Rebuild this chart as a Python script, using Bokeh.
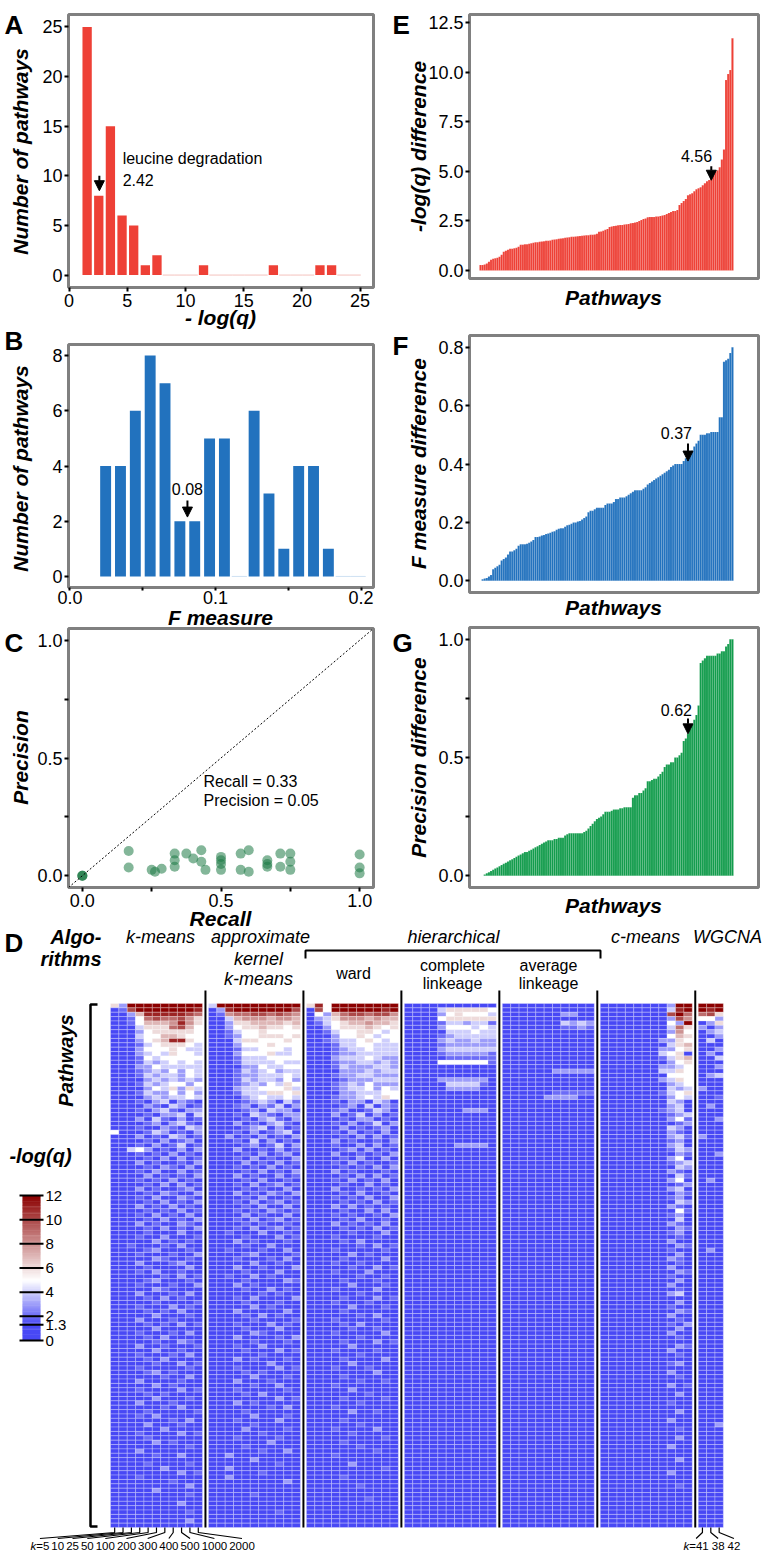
import numpy as np
from bokeh.plotting import figure
from bokeh.layouts import column, row
from bokeh.models import (Range1d, FixedTicker, NumeralTickFormatter, Arrow, NormalHead, Slope,
                          LinearColorMapper, Label, CustomJSTickFormatter, ColumnDataSource, GridBox)
from bokeh.embed import file_html
from bokeh.resources import INLINE

# ---------------- data ----------------
a_bins = [1.55, 2.55, 3.55, 4.55, 5.55, 6.55, 7.55, 8.55, 9.55, 10.55, 11.55, 12.55,
          13.55, 14.55, 15.55, 16.55, 17.55, 18.55, 19.55, 20.55, 21.55, 22.55, 23.55, 24.55]
a_counts = [25, 8, 15, 6, 5, 1, 2, 0, 0, 0, 1, 0, 0, 0, 0, 0, 1, 0, 0, 0, 1, 1, 0, 0]
a_xticks = [0, 5, 10, 15, 20, 25]
a_yticks = [0, 5, 10, 15, 20, 25]

b_bins = [0.0245, 0.0347, 0.0449, 0.0551, 0.0653, 0.0755, 0.0857, 0.0959, 0.1061, 0.1163,
          0.1265, 0.1367, 0.1469, 0.1571, 0.1673, 0.1775, 0.1877, 0.1979]
b_counts = [4, 4, 6, 8, 7, 2, 2, 5, 5, 0, 6, 3, 1, 4, 4, 1, 0, 0]
b_xticks = [0.0, 0.05, 0.1, 0.15, 0.2]
b_yticks = [0, 2, 4, 6, 8]

c_recall = [0, 0, 0, 0.167, 0.167, 0.25, 0.262, 0.286, 0.333, 0.333, 0.333, 0.375, 0.4,
            0.429, 0.429, 0.444, 0.5, 0.5, 0.5, 0.5, 0.571, 0.6, 0.571, 0.6, 0.667, 0.667,
            0.667, 0.714, 0.714, 0.75, 0.75, 0.75, 1.0, 1.0, 1.0]
c_precision = [0, 0, 0, 0.105, 0.035, 0.025, 0.017, 0.03, 0.094, 0.066, 0.038, 0.094, 0.073,
               0.108, 0.059, 0.025, 0.08, 0.066, 0.05, 0.025, 0.094, 0.108, 0.025, 0.017, 0.066,
               0.05, 0.038, 0.094, 0.038, 0.094, 0.059, 0.025, 0.09, 0.035, 0.01]
unit_ticks = [0.0, 0.25, 0.5, 0.75, 1.0]

e_values = [0.28, 0.28, 0.3, 0.35,
            0.45, 0.55, 0.6, 0.62, 0.65, 0.7, 0.8,
            0.95, 1.0, 1.05,
            1.1, 1.1, 1.12, 1.15, 1.2,
            1.3, 1.3, 1.32, 1.33, 1.35, 1.37, 1.4, 1.42, 1.43, 1.45,
            1.47, 1.48, 1.5, 1.5, 1.52, 1.55, 1.57, 1.58, 1.6, 1.62, 1.63, 1.65,
            1.67, 1.68, 1.7, 1.7, 1.72, 1.73, 1.74, 1.75, 1.76, 1.78, 1.78, 1.8, 1.8, 1.82, 1.85,
            1.95, 1.97, 2.0, 2.05, 2.1,
            2.2, 2.22, 2.24, 2.26, 2.28, 2.3, 2.3, 2.32, 2.33, 2.35,
            2.38, 2.4, 2.42, 2.45, 2.5, 2.55, 2.6, 2.62,
            2.68, 2.7, 2.7, 2.7, 2.72, 2.72, 2.75, 2.78, 2.8, 2.85,
            2.9, 2.95, 3.0, 3.0, 3.05, 3.3,
            3.4, 3.5, 3.6, 3.8, 3.85, 3.9,
            4.0, 4.1, 4.15, 4.2, 4.3, 4.4,
            4.5, 4.56, 4.7, 4.9, 5.0,
            5.05, 5.2, 5.6,
            6.1, 9.6, 9.9, 10.1, 11.7]
e_yticks = [0.0, 2.5, 5.0, 7.5, 10.0, 12.5]

f_values = [0.0, 0.005, 0.008, 0.01, 0.015, 0.02,
            0.04, 0.045, 0.05, 0.055,
            0.07, 0.075, 0.08, 0.09, 0.1,
            0.1, 0.105, 0.11, 0.12,
            0.125, 0.125, 0.125, 0.127, 0.13, 0.135, 0.14, 0.15, 0.15,
            0.152, 0.155, 0.157, 0.16, 0.162, 0.165, 0.168, 0.17, 0.175, 0.178, 0.18, 0.18, 0.185,
            0.19, 0.192, 0.195, 0.2, 0.2, 0.203, 0.205, 0.21, 0.215, 0.22,
            0.235, 0.24, 0.24, 0.245, 0.25, 0.25, 0.25, 0.25, 0.26, 0.265,
            0.265, 0.265, 0.27, 0.28, 0.28, 0.285, 0.285, 0.285, 0.29, 0.295, 0.3, 0.305,
            0.31, 0.31, 0.31, 0.31, 0.315, 0.32, 0.33, 0.335, 0.34, 0.345, 0.35,
            0.355, 0.36, 0.365, 0.37, 0.375, 0.38, 0.39, 0.395, 0.4,
            0.4, 0.4, 0.4, 0.41, 0.42, 0.43, 0.44,
            0.445, 0.46, 0.47, 0.48, 0.5, 0.5,
            0.5, 0.505, 0.505, 0.51, 0.51, 0.51,
            0.51, 0.56, 0.56,
            0.75, 0.755, 0.76, 0.78, 0.8]
f_yticks = [0.0, 0.2, 0.4, 0.6, 0.8]

g_values = [0.0, 0.0, 0.005, 0.01, 0.015,
            0.02, 0.025, 0.03, 0.035, 0.04, 0.045, 0.05, 0.055,
            0.06, 0.065, 0.07, 0.075, 0.08, 0.085, 0.09, 0.095,
            0.1, 0.1, 0.105, 0.11, 0.115, 0.12, 0.125, 0.13, 0.135, 0.14,
            0.145, 0.15, 0.15, 0.15, 0.155, 0.155, 0.16, 0.16, 0.16,
            0.17, 0.175, 0.18, 0.18, 0.18, 0.18, 0.18, 0.18, 0.18, 0.185,
            0.19, 0.2, 0.21, 0.22, 0.23, 0.24, 0.245,
            0.25, 0.26, 0.27, 0.27, 0.27, 0.275, 0.28, 0.28,
            0.28, 0.285, 0.285, 0.29, 0.29, 0.29, 0.29,
            0.33, 0.34, 0.34, 0.35, 0.35, 0.36, 0.37,
            0.4, 0.4, 0.405, 0.41, 0.41, 0.42, 0.43, 0.44,
            0.46, 0.47, 0.47, 0.48, 0.48, 0.5,
            0.5, 0.51, 0.52, 0.57,
            0.58, 0.6, 0.62, 0.64, 0.66,
            0.68, 0.72,
            0.9, 0.91, 0.92, 0.93,
            0.93, 0.93, 0.93, 0.93, 0.94,
            0.94, 0.95, 0.95,
            0.97, 0.98, 1.0, 1.0]

# heatmap: one string per pathway row; groups = k-means, approx. kernel k-means,
# ward, complete, average, c-means (11 k values each) and WGCNA (3); hex digit = -log(q)
hm_rows = [
    "63ccccccccc 4cccccccccc 6b5cccccccc 00000000000 00000000000 000000003cc ccc",
    "02acccccccb 03bccccccca 0a5ccccccbc 00004666665 00000000000 000000004bc cbc",
    "0137bbbbba9 02899aa9a98 05379aa9aa8 00003565554 00000003300 00000000ac9 9a6",
    "00259a99a86 01478887887 03468887877 00005666666 00000000000 000000003a8 553",
    "01257778b86 01366777767 02456778776 00002443442 00000004343 0000000053c 036",
    "00146669a75 01356676656 01356667656 00003555454 00000002232 00000000496 303",
    "00135666665 00245565555 01245566545 00000444544 00000000000 00000000385 034",
    "00145577655 00235566656 00135565455 00002344444 00000000000 00000000576 003",
    "0013567bb65 00146655565 00234456545 00003433433 00000000000 00000003365 040",
    "00124566654 00135556555 00124455444 00002333333 00000000000 00000000467 000",
    "00035556544 00124455545 00123445444 00003444444 00000000000 00000003356 003",
    "00134546554 00135556445 00023344444 00002333332 00000000000 00000004560 030",
    "00125455555 00024445555 00134445433 00001222222 00000000000 00000002467 004",
    "00024345454 00124444544 00023344343 00005555552 00000000000 00000000356 000",
    "00133544444 00013354455 00024333443 00000000000 00000000000 00000003345 003",
    "00123435354 00124345344 00013334344 00000000000 00000033333 00000004465 000",
    "00124344354 00023344454 00023344333 00000000000 00000000000 00000000555 034",
    "00013434343 00124344353 00012333444 00003333330 00000000000 00000003465 000",
    "00124345535 00023435465 00023435333 00000444420 00000000000 00000000345 000",
    "00013546364 00134455564 00123445354 00000333300 00000000000 00000000434 300",
    "00024335353 00124446656 00013344455 00000000000 00000022222 00000002456 000",
    "00013434454 00013454454 00023345465 00000000000 00000333300 00000000354 002",
    "00120340320 00102343042 00120330430 00000000000 00000000000 00000000430 000",
    "00013204302 00023032403 00002304032 00000000000 00000000000 00000000340 030",
    "00020342033 00102304330 00023002430 00000003330 00000000000 00000002340 000",
    "00102033404 00020432033 00030240302 00000000000 00000000000 00000000234 000",
    "00030420302 00102034203 00002033020 00000000000 00000000000 00000000352 003",
    "00002303420 00030203420 00020302403 00000000000 00000000000 00000000023 000",
    "00120032043 00002340302 00003020230 00000000000 00000000000 00000000430 000",
    "50002430203 00020302340 00020302030 00000000000 00000000000 00000000320 000",
    "00030204302 00302030203 00002030302 00000000000 00000000000 00000000342 300",
    "00002030230 00020403020 00030200203 00000000000 00000000000 00000000230 000",
    "00020302402 00002302403 00020030302 00000033330 00000000000 00000000340 000",
    "00453020303 00030020302 00002303020 00000000000 00000000000 00000000243 000",
    "00020203020 00002030230 00030020203 00000000000 00000000000 00000000032 003",
    "00002030302 00020302003 00002030030 00000000000 00000000000 00000000350 000",
    "00030200203 00003020302 00020302002 00000000000 00000000000 00000000234 000",
    "00002032030 00020203020 00002020303 00000000000 00000000000 00000000043 000",
    "00020300302 00002030203 00030200020 00000000000 00000000000 00000000320 000",
    "00003020203 00030200302 00002030302 00000000000 00000000000 00000000042 000",
    "00020203020 00002030020 00020302030 00000000000 00000000000 00000000350 030",
    "00002030302 00020302302 00002003020 00000000000 00000000000 00000000023 000",
    "00030200230 00002020030 00030020203 00000000000 00000000000 00000000340 000",
    "00002032003 00030203203 00002030020 00000000000 00000000000 00000000032 000",
    "00020300320 00002030020 00020203003 00000000000 00000000000 00000000230 000",
    "00002030203 00020302302 00002020302 00000000000 00000000000 00000000043 000",
    "00030203020 00002030030 00030302020 00000000000 00000000000 00000000320 000",
    "00002020302 00020203202 00002003030 00000000000 00000000000 00000000052 000",
    "00020302030 00003020030 00020200203 00000000000 00000000000 00000000230 000",
    "00002030203 00020302302 00002030020 00000000000 00000000000 00000000040 000",
    "00030200320 00002020020 00030202030 00000000000 00000000000 00000000320 000",
    "00002030203 00020302302 00002020302 00000000000 00000000000 00000000032 000",
    "00002000300 00200030020 00000200030 00000000000 00000000000 00000000230 000",
    "00020030002 00002000302 00020000200 00000000000 00000000000 00000000020 000",
    "00000302020 00030200020 00002030000 00000000000 00000000000 00000000300 000",
    "00200020300 00002003000 00000020302 00000000000 00000000000 00000000032 000",
    "00002300020 00200020030 00020000020 00000000000 00000000000 00000000200 030",
    "00020002003 00002300002 00000302000 00000000000 00000000000 00000000030 000",
    "00000320020 00020002030 00002000030 00000000000 00000000000 00000000320 000",
    "00030002300 00000300200 00020020000 00000000000 00000000000 00000000020 000",
    "00002000030 00030020003 00000200302 00000000000 00000000000 00000000300 000",
    "00020300200 00002000300 00020003000 00000000000 00000000000 00000000032 000",
    "00000020302 00200302000 00000020020 00000000000 00000000000 00000000200 000",
    "00002300020 00002000032 00002000200 00000000000 00000000000 00000000030 000",
    "00020002003 00030200000 00000300020 00000000000 00000000000 00000000300 000",
    "00000320000 00002003020 00020000300 00000000000 00000000000 00000000020 000",
    "00030002030 00000020200 00000020000 00000000000 00000000000 00000000340 000",
    "00002030200 00020300003 00002000302 00000000000 00000000000 00000000000 000",
    "00000200002 00002000200 00020002000 00000000000 00000000000 00000000030 000",
    "00020003020 00000302000 00000300020 00000000000 00000000000 00000000200 000",
    "00002020300 00030000030 00002000000 00000000000 00000000000 00000000032 000",
    "00000300020 00002030200 00000020300 00000000000 00000000000 00000000300 000",
    "00030002000 00000200002 00020000020 00000000000 00000000000 00000000020 000",
    "00002020302 00020003020 00002030000 00000000000 00000000000 00000000203 000",
    "00000300000 00002000300 00000200200 00000000000 00000000000 00000000030 000",
    "00020002030 00000320000 00020000030 00000000000 00000000000 00000000300 000",
    "00002030000 00030000203 00000020000 00000000000 00000000000 00000000020 000",
    "00000200320 00000200020 00002000302 00000000000 00000000000 00000000000 000",
    "00030020002 00020030000 00000300000 00000000000 00000000000 00000000032 000",
    "00000300200 00002000302 00020000200 00000000000 00000000000 00000000300 000",
    "00020002030 00000020000 00000020000 00000000000 00000000000 00000000020 000",
    "00002030000 00030200020 00002000030 00000000000 00000000000 00000000000 000",
    "00000200302 00000003000 00000300000 00000000000 00000000000 00000000230 000",
    "00020000020 00020000302 00020002000 00000000000 00000000000 00000000000 000",
    "00002302000 00002020000 00000000300 00000000000 00000000000 00000000300 000",
    "00000020030 00000300020 00002000000 00000000000 00000000000 00000000020 000",
    "00030000200 00030002000 00000020020 00000000000 00000000000 00000000000 000",
    "00000302000 00000200300 00020000000 00000000000 00000000000 00000000302 000",
    "00020000302 00020000020 00000300000 00000000000 00000000000 00000000000 000",
    "00002020000 00002030000 00000002000 00000000000 00000000000 00000000030 000",
    "00000300020 00000000302 00002000020 00000000000 00000000000 00000000000 000",
    "00030002000 00030200000 00000020000 00000000000 00000000000 00000000200 000",
    "00000020300 00000002030 00020000000 00000000000 00000000000 00000000000 000",
    "00002000002 00002000000 00000300200 00000000000 00000000000 00000000030 000",
    "00020300000 00000300020 00000000000 00000000000 00000000000 00000000000 000",
    "00000002030 00020000300 00002000000 00000000000 00000000000 00000000300 000",
    "00003000200 00000200000 00000020000 00000000000 00000000000 00000000000 003",
    "00000030000 00003000020 00020000300 00000000000 00000000000 00000000020 000",
    "00020000302 00000020000 00000200000 00000000000 00000000000 00000000000 000",
    "00002000000 00020000200 00000000020 00000000000 00000000000 00000000030 000",
    "00000302000 00000003000 00002000000 00000000000 00000000000 00000000000 000",
    "00000000020 00002000000 00000020000 00000000000 00000000000 00000000300 000",
    "00030000000 00000020030 00000000200 00000000000 00000000000 00000000000 000",
    "00000200300 00300000000 00020000000 00000000000 00000000000 00000000000 000",
    "00000000000 00000300000 00000000000 00000000000 00000000000 00000000030 000",
    "00002000020 00000000200 00000300000 00000000000 00000000000 00000000000 000",
    "00000030000 00300000000 00000000020 00000000000 00000000000 00000000000 000",
    "00000000302 00000020000 00000000000 00000000000 00000000000 00000000300 000",
    "00020000000 00300000000 00002000000 00000000000 00000000000 00000000000 000",
    "00000002000 00000000030 00000000000 00000000000 00000000000 00000000000 000",
    "00000000030 00000000000 00000020000 00000000000 00000000000 00000000020 000",
    "00000300000 00000000000 00000000000 00000000000 00000000000 00000000000 000",
    "00000000020 00000200000 00000000000 00000000000 00000000000 00000000000 000",
    "00000000000 00000000000 00000002000 00000000000 00000000000 00000000000 000",
    "00000000300 00000000000 00000000000 00000000000 00000000000 00000000000 000",
    "00000000000 00000000000 00000000000 00000000000 00000000000 00000000000 000",
    "00000000020 00000000200 00000000000 00000000000 00000000000 00000000000 000",
    "00000000000 00000000000 00000000000 00000000000 00000000000 00000000000 000",
    "00000000030 00000000000 00000000000 00000000000 00000000000 00000000000 000",
    "00000000000 00000000000 00000000000 00000000000 00000000000 00000000000 000",
]
km_k = ["5", "10", "25", "50", "100", "200", "300", "400", "500", "1000", "2000"]
wg_k = ["41", "38", "42"]
cb_ticks = [0, 1.3, 2, 4, 6, 8, 10, 12]
cb_tick_labels = ["0", "1.3", "2", "4", "6", "8", "10", "12"]

# ---------------- style ----------------
FONT = "Liberation Sans"
RED = "#EE4036"
BLUE = "#2272BE"
GREEN = "#129C4C"
DKGREEN = "#1E7A45"
TICK_PX = "18px"
TITLE_PX = "21px"
ANN_PX = "16px"
W, H = 766, 1550


def panel(box, frame, xr, yr):
    bx0, by0, bx1, by1 = box
    fx0, fy0, fx1, fy1 = frame
    p = figure(width=bx1 - bx0, height=by1 - by0, x_range=Range1d(*xr), y_range=Range1d(*yr),
               output_backend="svg", toolbar_location=None,
               min_border_left=fx0 - bx0, min_border_right=bx1 - fx1,
               min_border_top=fy0 - by0, min_border_bottom=by1 - fy1)
    p.grid.visible = False
    p.outline_line_color = "#808080"
    p.outline_line_width = 3
    p.background_fill_color = "white"
    p.border_fill_color = "white"
    for ax in p.axis:
        ax.axis_line_color = None
        ax.major_tick_line_color = "black"
        ax.major_tick_line_width = 2
        ax.major_tick_out = 4
        ax.major_tick_in = 0
        ax.minor_tick_line_color = None
        ax.major_label_text_font = FONT
        ax.major_label_text_font_size = TICK_PX
        ax.major_label_text_color = "black"
        ax.major_label_standoff = 2
    return p


def ann(p, text, x, y, align="center"):
    p.add_layout(Label(x=x, y=y, text=text, text_font=FONT, text_font_size=ANN_PX,
                       text_align=align, text_baseline="middle", text_color="black"))


def arrow(p, x, y_top, y_tip):
    p.add_layout(Arrow(end=NormalHead(size=10, fill_color="black", line_color="black", line_width=1),
                       x_start=x, y_start=y_top, x_end=x, y_end=y_tip,
                       line_color="black", line_width=2))


hide_quarter = CustomJSTickFormatter(code="""
    if (Math.abs(tick - 0.25) < 1e-9 || Math.abs(tick - 0.75) < 1e-9) { return ''; }
    return tick.toFixed(1);""")
hide_half_tenth = CustomJSTickFormatter(code="""
    if (Math.abs(tick - 0.05) < 1e-9 || Math.abs(tick - 0.15) < 1e-9) { return ''; }
    return tick.toFixed(1);""")

# ---------------- A ----------------
pA = panel((0, 0, 383, 318), (68, 14, 373, 287), (-0.05, 26.15), (-1.25, 26.25))
pA.vbar(x=a_bins, top=a_counts, width=0.8, fill_color=RED, line_color=None)
a_zero = [b for b, c in zip(a_bins, a_counts) if c == 0]
pA.vbar(x=a_zero, top=0, bottom=0, width=1.0, fill_color=None, line_color="#F8D6D3", line_width=1)
pA.xaxis.ticker = FixedTicker(ticks=a_xticks)
pA.yaxis.ticker = FixedTicker(ticks=a_yticks)
ann(pA, "leucine degradation", 4.6, 11.7, align="left")
ann(pA, "2.42", 4.6, 9.6, align="left")
arrow(pA, 2.6, 10.0, 8.5)

# ---------------- B ----------------
pB = panel((0, 318, 383, 606), (68, 344, 373, 592), (-0.001, 0.2085), (-0.4, 8.4))
pB.vbar(x=b_bins, top=b_counts, width=0.0075, fill_color=BLUE, line_color=None)
b_zero = [b for b, c in zip(b_bins, b_counts) if c == 0]
pB.vbar(x=b_zero, top=0, bottom=0, width=0.0102, fill_color=None, line_color="#D3E3F3", line_width=1)
pB.xaxis.ticker = FixedTicker(ticks=b_xticks)
pB.xaxis.formatter = hide_half_tenth
pB.xaxis.major_tick_out = 3
pB.xaxis.major_label_standoff = 0
pB.yaxis.ticker = FixedTicker(ticks=b_yticks)
ann(pB, "0.08", 0.0807, 3.15)
arrow(pB, 0.0807, 2.75, 2.15)

# ---------------- C ----------------
pC = panel((0, 606, 383, 912), (68, 628, 373, 887), (-0.05, 1.05), (-0.05, 1.05))
pC.add_layout(Slope(gradient=1, y_intercept=0, line_color="black", line_dash="2 2", line_width=1))
pC.scatter(x=c_recall, y=c_precision, size=10, fill_color=DKGREEN, fill_alpha=0.55, line_color=None)
pC.xaxis.ticker = FixedTicker(ticks=unit_ticks)
pC.yaxis.ticker = FixedTicker(ticks=unit_ticks)
pC.xaxis.formatter = hide_quarter
pC.yaxis.formatter = hide_quarter
ann(pC, "Recall = 0.33", 0.437, 0.40, align="left")
ann(pC, "Precision = 0.05", 0.437, 0.32, align="left")

# ---------------- E / F / G ----------------
XR = (-5.2, 131.3)


def diff_panel(box, frame, yr, vals, color, yticks, fmt):
    p = panel(box, frame, XR, yr)
    p.vbar(x=list(range(len(vals))), top=vals, width=1.0, fill_color=color,
           line_color="white", line_width=0.3, line_alpha=0.35)
    p.xaxis.visible = False
    p.yaxis.ticker = FixedTicker(ticks=yticks)
    p.yaxis.formatter = fmt
    return p


pE = diff_panel((383, 0, 766, 300), (469, 14, 758, 278), (-0.4, 12.9), e_values, RED,
                e_yticks, NumeralTickFormatter(format="0.0"))
ann(pE, "4.56", 102, 5.75)
arrow(pE, 109, 5.25, 4.55)

pF = diff_panel((383, 300, 766, 612), (469, 335, 758, 592), (-0.04, 0.84), f_values, BLUE,
                f_yticks, NumeralTickFormatter(format="0.0"))
ann(pF, "0.37", 92.5, 0.505)
arrow(pF, 98, 0.47, 0.41)

pG = diff_panel((383, 612, 766, 912), (469, 627, 758, 887), (-0.05, 1.05), g_values, GREEN,
                unit_ticks, hide_quarter)
ann(pG, "0.62", 92.5, 0.70)
arrow(pG, 98, 0.665, 0.60)

# ---------------- D : heatmap ----------------
HX0, HY0 = 110, 1003      # page px of heatmap top-left corner
CW = 8.36                 # px per column
RH = 524 / len(hm_rows)   # px per row
GAPU = 6 / CW             # gap between algorithm groups (column units)
BOX = (0, 912, 766, 1550)


def px(x):
    return (x - HX0) / CW


def py(y):
    return (y - HY0) / RH


hm = figure(width=BOX[2] - BOX[0], height=BOX[3] - BOX[1],
            x_range=Range1d(px(BOX[0]), px(BOX[2])), y_range=Range1d(py(BOX[3]), py(BOX[1])),
            output_backend="svg", toolbar_location=None, min_border=0,
            x_axis_location=None, y_axis_location=None)
hm.grid.visible = False
hm.outline_line_color = None
hm.background_fill_color = "white"
hm.border_fill_color = "white"

c_blue = np.array([72, 72, 245])
c_white = np.array([255, 255, 255])
c_red = np.array([139, 0, 0])
pal = []
for v in np.linspace(0, 12, 241):
    if v <= 1.3:
        c = c_blue
    elif v <= 5:
        c = c_blue + (c_white - c_blue) * (v - 1.3) / 3.7
    else:
        c = c_white + (c_red - c_white) * (v - 5) / 7
    pal.append("#%02x%02x%02x" % tuple(int(round(k)) for k in c))
mapper = LinearColorMapper(palette=pal, low=0, high=12)

xs, ys, vs = [], [], []
for r, line in enumerate(hm_rows):
    col = 0
    for g, grp in enumerate(line.split()):
        for j, ch in enumerate(grp):
            xs.append(col + j + g * GAPU + 0.5)
            ys.append(r + 0.5)
            vs.append(int(ch, 16))
        col += len(grp)
src = ColumnDataSource(dict(x=xs, y=ys, v=vs))
hm.rect(x="x", y="y", width=1, height=1, source=src,
        fill_color={"field": "v", "transform": mapper},
        line_color="white", line_width=0.6, line_alpha=0.45)

n_rows = len(hm_rows)
sizes = [len(gp) for gp in hm_rows[0].split()]
sep_x = []
acc = 0
for g, s in enumerate(sizes[:-1]):
    acc += s
    sep_x.append(acc + g * GAPU + GAPU / 2)
hm.segment(x0=sep_x, y0=[py(990)] * len(sep_x), x1=sep_x, y1=[n_rows] * len(sep_x),
           line_color="black", line_width=2)

# left bracket
hm.line(x=[px(97), px(90), px(90), px(97)], y=[py(1004), py(1004), py(1526), py(1526)],
        line_color="black", line_width=2.5)
# hierarchical bracket
hm.line(x=[px(305), px(305), px(600), px(600)], y=[py(958), py(950), py(950), py(958)],
        line_color="black", line_width=2)


def hlabel(text, x, y, style="italic", size="18px", align="center", angle=0.0):
    hm.add_layout(Label(x=px(x), y=py(y), text=text, text_font=FONT, text_font_size=size,
                        text_font_style=style, text_align=align, text_baseline="middle",
                        text_color="black", angle=angle))


hlabel("Algo-", 101, 936, style="bold italic", size="20px", align="right")
hlabel("rithms", 101, 958, style="bold italic", size="20px", align="right")
hlabel("k-means", 160, 936)
hlabel("approximate", 260, 936)
hlabel("kernel", 258, 958)
hlabel("k-means", 258, 978)
hlabel("hierarchical", 453, 936)
hlabel("c-means", 645, 936)
hlabel("WGCNA", 727, 936)
hlabel("ward", 353, 973, style="normal", size="16px")
hlabel("complete", 452, 965, style="normal", size="16px")
hlabel("linkeage", 452, 983, style="normal", size="16px")
hlabel("average", 548, 965, style="normal", size="16px")
hlabel("linkeage", 548, 983, style="normal", size="16px")
hlabel("Pathways", 65, 1060, style="bold italic", size="20px", angle=np.pi / 2)
hlabel("-log(q)", 40, 1155, style="bold italic", size="20px")

# colour bar
CB_Y0, CB_PPU = 1340, 145 / 12
cb_v = np.linspace(0.05, 11.95, 120)
hm.rect(x=[px(31)] * len(cb_v), y=[py(CB_Y0 - v * CB_PPU) for v in cb_v],
        width=18 / CW, height=CB_PPU * 0.1 / RH + 0.1,
        fill_color=[pal[int(round(v / 12 * 240))] for v in cb_v], line_color=None)
hm.segment(x0=[px(19)] * len(cb_ticks), y0=[py(CB_Y0 - t * CB_PPU) for t in cb_ticks],
           x1=[px(43)] * len(cb_ticks), y1=[py(CB_Y0 - t * CB_PPU) for t in cb_ticks],
           line_color="black", line_width=2)
for t, lab in zip(cb_ticks, cb_tick_labels):
    hlabel(lab, 45, CB_Y0 - t * CB_PPU, style="normal", size="15px", align="left")

# k labels below heatmap
LSIZE = 11.5
CHW = {"k": 0.5, "=": 0.584, " ": 0.278}


def tw(s):
    return sum(CHW.get(ch, 0.556) for ch in s) * LSIZE


def label_row(labels, x_start, gap):
    centers, lefts = [], []
    x = x_start
    for i, k in enumerate(labels):
        s = ("k=" + k) if i == 0 else k
        w = tw(s)
        lefts.append(x)
        centers.append(x + w / 2)
        x += w + gap
    return centers, lefts


km_c, km_l = label_row(km_k, 30, 2.0)
wg_c, wg_l = label_row(wg_k, 683, 3.0)
wg_x0 = sum(sizes[:-1]) + (len(sizes) - 1) * GAPU
cols_x = [j + 0.5 for j in range(len(km_k))] + [wg_x0 + j + 0.5 for j in range(len(wg_k))]
labs_x = km_c + wg_c
hm.multi_line(xs=[[cx, cx, px(lx)] for cx, lx in zip(cols_x, labs_x)],
              ys=[[n_rows, py(1532), py(1538)] for _ in cols_x],
              line_color="black", line_width=1.2)
LAB_Y = 1545
for labels, lefts in ((km_k, km_l), (wg_k, wg_l)):
    for i, (k, lx) in enumerate(zip(labels, lefts)):
        if i == 0:
            hlabel("k", lx, LAB_Y, style="italic", size="%gpx" % LSIZE, align="left")
            hlabel("=" + k, lx + CHW["k"] * LSIZE, LAB_Y, style="normal", size="%gpx" % LSIZE,
                   align="left")
        else:
            hlabel(k, lx, LAB_Y, style="normal", size="%gpx" % LSIZE, align="left")

# ---------------- overlay: panel letters and axis titles ----------------
ov = figure(width=W, height=H, x_range=Range1d(0, W), y_range=Range1d(H, 0),
            output_backend="svg", toolbar_location=None, min_border=0,
            x_axis_location=None, y_axis_location=None)
ov.grid.visible = False
ov.outline_line_color = None
ov.background_fill_alpha = 0
ov.border_fill_alpha = 0
ov.styles = {"z-index": "10"}


def olabel(text, x, y, size, style, align="center", angle=0.0, baseline="middle"):
    ov.add_layout(Label(x=x, y=y, text=text, text_font=FONT, text_font_size=size,
                        text_font_style=style, text_align=align, text_baseline=baseline,
                        text_color="black", angle=angle))


# letters: (text, left x, baseline y)
for letter, lx, ly in (("A", 4, 24), ("B", 4, 340), ("C", 4, 642),
                       ("E", 392, 24), ("F", 392, 345), ("G", 392, 642), ("D", 4, 942)):
    olabel(letter, lx, ly, "26px", "bold", align="left", baseline="alphabetic")

titles_y = [("Number of pathways", 20, 151), ("Number of pathways", 20, 468),
            ("Precision", 20, 757), ("-log(q) difference", 418, 146),
            ("F measure difference", 418, 463), ("Precision difference", 418, 757)]
for t, x, y in titles_y:
    olabel(t, x, y, TITLE_PX, "bold italic", angle=np.pi / 2)
titles_x = [("- log(q)", 220, 317), ("F measure", 220, 617), ("Recall", 220, 918),
            ("Pathways", 613, 297), ("Pathways", 613, 607), ("Pathways", 613, 905)]
for t, x, y in titles_x:
    olabel(t, x, y, TITLE_PX, "bold italic")

main = column(row(column(pA, pB, pC), column(pE, pF, pG)), hm)
layout = GridBox(children=[(main, 0, 0), (ov, 0, 0)])
open("out.html", "w").write(file_html(layout, INLINE, title="Figure"))
